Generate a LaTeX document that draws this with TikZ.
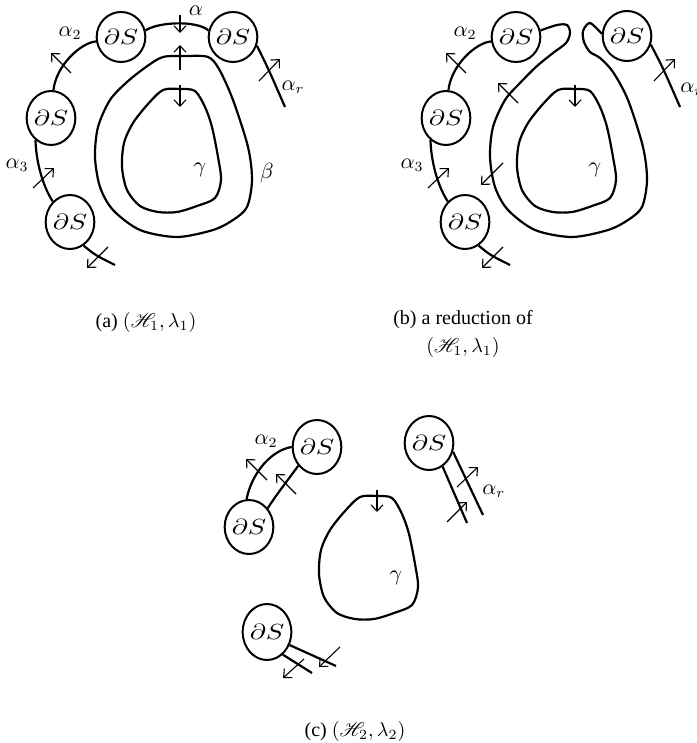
\documentclass[tikz,border=0pt]{standalone}
\usepackage{fontspec}
\setmainfont{Liberation Serif}
\usepackage{mathrsfs}
\usepackage{graphicx}
\usetikzlibrary{shapes.geometric,arrows.meta}
\newcommand{\dS}{\scalebox{1.25}[1]{$\partial S$}}
\begin{document}
\begin{tikzpicture}[x=0.5pt,y=-0.5pt,
  bd/.style={draw, ellipse, line width=1pt, inner sep=0pt, font=\fontsize{10.5}{12}\selectfont},
  crv/.style={line width=1.1pt},
  arr/.style={line width=0.55pt, -{Straight Barb[length=3.2pt,width=6pt]}},
  lab/.style={font=\fontsize{10.5}{12}\selectfont, inner sep=0pt},
  captext/.style={font=\fontsize{10}{12}\selectfont, align=center, inner sep=0pt}]
\useasboundingbox (0,0) rectangle (696,743);
\clip (0,0) rectangle (696,743);

% ---------------- panel (a)
\node[bd, minimum width=23pt, minimum height=25pt] (atm) at (121,37) {\dS};
\node[bd, minimum width=24pt, minimum height=25pt] (atr) at (233,37) {\dS};
\node[bd, minimum width=23pt, minimum height=27pt] (alf) at (51,118) {\dS};
\node[bd, minimum width=23pt, minimum height=27pt] (abt) at (70,222) {\dS};
\coordinate (aend1) at (115,265);
\coordinate (aend2) at (285,107);
\draw[crv] (atm.15) .. controls (158,22) and (196,20) .. (atr.165);
\draw[crv] (atm.190) .. controls (80,43) and (56,66) .. (alf.85);
\draw[crv] (alf.235) .. controls (36,160) and (42,185) .. (abt.130);
\draw[crv] (abt.300) .. controls (95,255) .. (aend1);
\draw[crv] (atr.340) .. controls (268,68) .. (aend2);
\draw[crv] plot[smooth cycle, tension=0.5] coordinates {(163,57) (186,56) (208,57) (219,69) (233,100) (248,147) (252,180) (247,207) (233,220) (213,230) (177,237) (140,230) (113,210) (100,187) (95,157) (98,127) (110,100) (127,82) (146,67)};
\draw[crv] plot[smooth cycle, tension=0.5] coordinates {(163,90) (180,89) (195,91) (205,107) (212,127) (218,157) (221,180) (215,198) (197,206) (177,212) (158,212) (140,206) (127,190) (122,167) (124,143) (133,123) (148,104)};
\draw[arr] (180,15) -- (180,33);
\draw[arr] (180,70) -- (180,45);
\draw[arr] (180,85) -- (180,107);
\draw[arr] (71,73) -- (51,53);
\draw[arr] (33,188) -- (54,168);
\draw[arr] (108,247) -- (87,268);
\draw[arr] (259,81) -- (280,59);
\node[lab] (laa) at (196,11) {$\alpha$};
\node[lab] (laa2) at (70,33) {$\alpha_2$};
\node[lab] (laar) at (293,87) {$\alpha_r$};
\node[lab] (laa3) at (17,165) {$\alpha_3$};
\node[lab] (lbeta) at (267,173) {$\beta$};
\node[lab] (lag) at (200,170) {$\gamma$};
\node[captext] (capa) at (146,322) {(a) $(\mathscr{H}_1,\lambda_1)$};

% ---------------- panel (b)
\node[bd, minimum width=23pt, minimum height=25pt] (btm) at (516,37) {\dS};
\node[bd, minimum width=24pt, minimum height=25pt] (btr) at (627,36) {\dS};
\node[bd, minimum width=23pt, minimum height=27pt] (blf) at (446,118) {\dS};
\node[bd, minimum width=23pt, minimum height=27pt] (bbt) at (465,222) {\dS};
\coordinate (bend1) at (510,265);
\coordinate (bend2) at (680,107);
\draw[crv] (btm.190) .. controls (475,43) and (451,66) .. (blf.85);
\draw[crv] (blf.235) .. controls (431,160) and (437,185) .. (bbt.130);
\draw[crv] (bbt.300) .. controls (490,255) .. (bend1);
\draw[crv] (btr.340) .. controls (663,68) .. (bend2);
\draw[crv] plot[smooth, tension=0.5] coordinates {(btm.15) (557,25) (567,25) (570,33) (566,43) (553,53) (537,66) (520,83) (505,100) (493,127) (490,157) (495,187) (508,210) (535,230) (572,237) (608,230) (628,220) (642,207) (647,180) (643,147) (628,100) (613,72) (600,58) (590,52) (584,42) (583,31) (590,23) (btr.175)};
\begin{scope}[shift={(395,0)}]
\draw[crv] plot[smooth cycle, tension=0.5] coordinates {(163,90) (180,89) (195,91) (205,107) (212,127) (218,157) (221,180) (215,198) (197,206) (177,212) (158,212) (140,206) (127,190) (122,167) (124,143) (133,123) (148,104)};
\end{scope}
\draw[arr] (575,85) -- (575,107);
\draw[arr] (518,103) -- (498,83);
\draw[arr] (503,163) -- (481,185);
\draw[arr] (466,73) -- (446,53);
\draw[arr] (428,188) -- (449,168);
\draw[arr] (503,247) -- (482,268);
\draw[arr] (654,81) -- (675,59);
\node[lab] (lba2) at (465,33) {$\alpha_2$};
\node[lab] (lba3) at (412,165) {$\alpha_3$};
\node[lab, anchor=west] (lbar) at (680,89) {$\alpha_r$};
\node[lab] (lbg) at (595,170) {$\gamma$};
\node[captext] (capb) at (463,334) {(b) a reduction of\\[2pt] $(\mathscr{H}_1,\lambda_1)$};

% ---------------- panel (c)
\node[bd, minimum width=24pt, minimum height=27pt] (c1) at (317,447) {\dS};
\node[bd, minimum width=23pt, minimum height=27pt] (c2) at (249,527) {\dS};
\node[bd, minimum width=23pt, minimum height=27pt] (c3) at (429,443) {\dS};
\node[bd, minimum width=23pt, minimum height=28pt] (c4) at (267,632) {\dS};
\coordinate (ce1) at (467,523);
\coordinate (ce2) at (483,515);
\coordinate (ce3) at (336,666);
\coordinate (ce4) at (312,673);
\draw[crv] (c1.180) .. controls (272,450) and (252,472) .. (c2.95);
\draw[crv] (c1.225) .. controls (288,480) and (276,495) .. (c2.45);
\draw[crv] (c3.300) -- (ce1);
\draw[crv] (c3.340) -- (ce2);
\draw[crv] (c4.330) -- (ce3);
\draw[crv] (c4.305) -- (ce4);
\begin{scope}[shift={(197,407)}]
\draw[crv] plot[smooth cycle, tension=0.5] coordinates {(163,90) (180,89) (195,91) (205,107) (212,127) (218,157) (221,180) (215,198) (197,206) (177,212) (158,212) (140,206) (127,190) (122,167) (124,143) (133,123) (148,104)};
\end{scope}
\draw[arr] (377,490) -- (377,512);
\draw[arr] (267,480) -- (246,459);
\draw[arr] (296,494) -- (276,474);
\draw[arr] (457,487) -- (478,467);
\draw[arr] (447,522) -- (467,502);
\draw[arr] (340,647) -- (319,667);
\draw[arr] (304,659) -- (283,678);
\node[lab] (lca2) at (266,441) {$\alpha_2$};
\node[lab, anchor=west] (lcar) at (482,491) {$\alpha_r$};
\node[lab] (lcg) at (396,578) {$\gamma$};
\node[captext] (capc) at (355,731) {(c) $(\mathscr{H}_2,\lambda_2)$};
\end{tikzpicture}
\end{document}
